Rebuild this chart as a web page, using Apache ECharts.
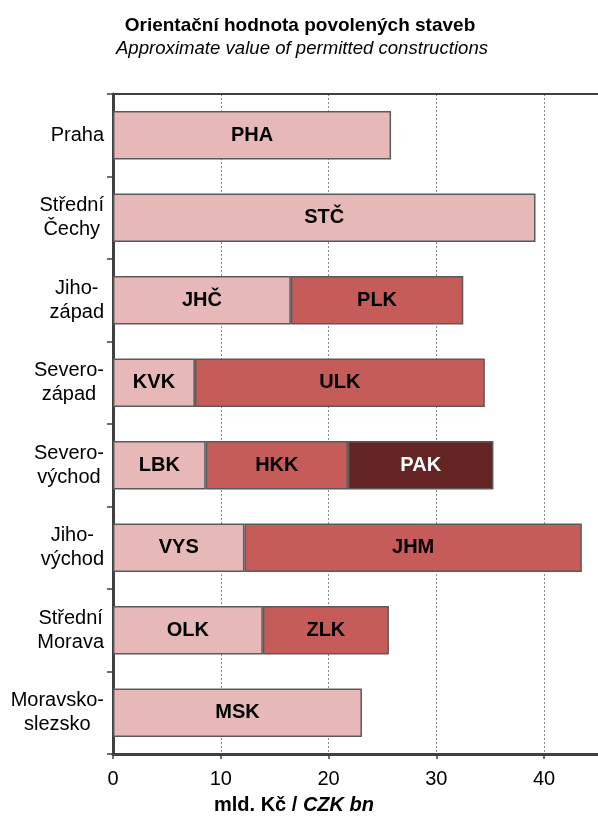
<!DOCTYPE html>
<html>
<head>
<meta charset="utf-8">
<script src="https://cdn.jsdelivr.net/npm/echarts@6/dist/echarts.min.js"></script>
<style>
  html, body { margin: 0; padding: 0; background: #ffffff; }
  #chart { width: 598px; height: 816px; }
</style>
</head>
<body>
<div id="chart"></div>
<script>
// Regions (top to bottom) and the regional codes stacked inside each bar
const categories = ['Praha', 'Střední\nČechy', 'Jiho-\nzápad', 'Severo-\nzápad', 'Severo-\nvýchod', 'Jiho-\nvýchod', 'Střední\nMorava', 'Moravsko-\nslezsko'];

const codes1 = ['PHA', 'STČ', 'JHČ', 'KVK', 'LBK', 'VYS', 'OLK', 'MSK'];
const values1 = [25.8, 39.2, 16.5, 7.6, 8.6, 12.2, 13.9, 23.1];

const codes2 = [null, null, 'PLK', 'ULK', 'HKK', 'JHM', 'ZLK', null];
const values2 = [null, null, 16.0, 26.9, 13.2, 31.3, 11.7, null];

const codes3 = [null, null, null, null, 'PAK', null, null, null];
const values3 = [null, null, null, null, 13.5, null, null, null];

const xTicks = [0, 10, 20, 30, 40];

const FONT = '"Liberation Sans", Arial, sans-serif';
const AXIS_COLOR = '#404040';

function segment(codes, values, color, textColor) {
  return {
    type: 'bar',
    stack: 'total',
    barWidth: '59%',
    itemStyle: { color: color, borderColor: '#5a5a5a', borderWidth: 1.5 },
    label: {
      show: true,
      position: 'inside',
      formatter: p => codes[p.dataIndex] || '',
      fontFamily: FONT,
      fontSize: 20,
      fontWeight: 'bold',
      color: textColor
    },
    data: values.map(v => (v === null ? '-' : v))
  };
}

const chart = echarts.init(document.getElementById('chart'), null, { renderer: 'canvas' });

chart.setOption({
  animation: false,
  backgroundColor: '#ffffff',
  title: [
    {
      text: 'Orientační hodnota povolených staveb',
      left: 295, top: 11, textAlign: 'center',
      textStyle: { fontFamily: FONT, fontSize: 19, fontWeight: 'bold', color: '#000' }
    },
    {
      text: 'Approximate value of permitted constructions',
      left: 297, top: 34, textAlign: 'center',
      textStyle: { fontFamily: FONT, fontSize: 18.6, fontStyle: 'italic', fontWeight: 'normal', color: '#000' }
    },
    {
      text: '{b|mld. Kč / }{bi|CZK bn}',
      left: 209, top: 790,
      textStyle: {
        rich: {
          b: { fontFamily: FONT, fontSize: 20, fontWeight: 'bold', color: '#000' },
          bi: { fontFamily: FONT, fontSize: 20, fontWeight: 'bold', fontStyle: 'italic', color: '#000' }
        }
      }
    }
  ],
  grid: { left: 113, right: 0, top: 94, bottom: 62, containLabel: false },
  xAxis: [
    {
      type: 'value',
      position: 'bottom',
      min: 0, max: 45, interval: 10,
      axisLine: { show: true, lineStyle: { color: AXIS_COLOR, width: 3 } },
      axisTick: { show: true, length: 5, lineStyle: { color: AXIS_COLOR, width: 1.5 } },
      axisLabel: {
        fontFamily: FONT, fontSize: 20, color: '#000', margin: 15,
        showMaxLabel: false,
        formatter: v => (xTicks.indexOf(v) >= 0 ? String(v) : '')
      },
      splitLine: { show: true, lineStyle: { color: '#8a8a8a', width: 1, type: [2, 2] } }
    },
    {
      type: 'value',
      position: 'top',
      min: 0, max: 45, interval: 10,
      axisLine: { show: true, lineStyle: { color: AXIS_COLOR, width: 2 } },
      axisTick: { show: false },
      axisLabel: { show: false },
      splitLine: { show: false }
    }
  ],
  yAxis: {
    type: 'category',
    inverse: true,
    data: categories,
    axisLine: { show: true, lineStyle: { color: AXIS_COLOR, width: 3 } },
    axisTick: { show: true, length: 6, lineStyle: { color: AXIS_COLOR, width: 1.5 } },
    axisLabel: {
      margin: 9,
      align: 'right',
      // each line is centred within the right-aligned label block
      formatter: v => v.split('\n').map(line => '{c|' + line + '}').join('\n'),
      rich: {
        c: { fontFamily: FONT, fontSize: 20, color: '#000', align: 'center', lineHeight: 24 }
      }
    }
  },
  series: [
    segment(codes1, values1, '#e6b8b7', '#000'),
    segment(codes2, values2, '#c55c59', '#000'),
    segment(codes3, values3, '#632423', '#fff')
  ]
});
</script>
</body>
</html>
